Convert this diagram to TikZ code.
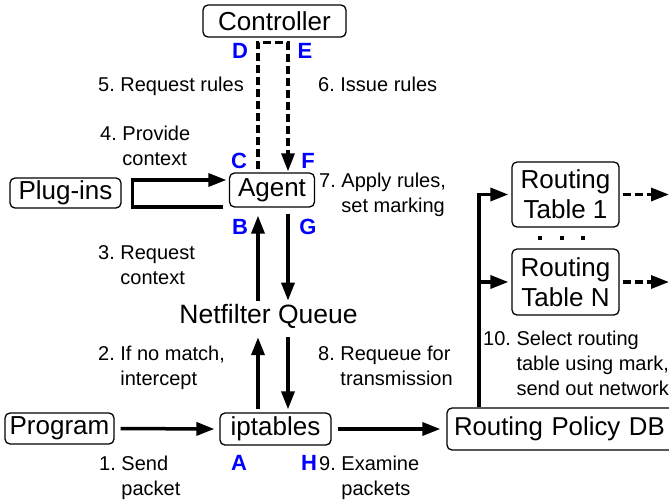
\documentclass[tikz,border=0pt]{standalone}
\usepackage{fontspec}
\setmainfont{Liberation Sans}
\usetikzlibrary{arrows.meta,calc}
\frenchspacing
\tikzset{
 box/.style={draw, line width=1.3pt, rounded corners=5pt, inner sep=0pt, font=\fontsize{26}{30}\selectfont, align=center},
 conn/.style={line width=3.5pt, -{Triangle[length=18pt,width=13pt]}},
 dsh/.style={line width=3.2pt, dash pattern=on 8pt off 4pt},
 lbl/.style={anchor=base west, inner sep=0pt, font=\fontsize{20}{25}\selectfont},
 pt/.style={anchor=center, inner sep=0pt, font=\fontsize{22}{22}\selectfont\bfseries, text=blue},
 dotsq/.style={fill=black},
}
\newcommand{\twoline}[3]{\begin{tabular}[t]{@{}l@{}l@{}}#1\ \mbox{}&#2\\&#3\end{tabular}}
\begin{document}
\begin{tikzpicture}[x=1pt,y=-1pt]
\useasboundingbox (0,0) rectangle (669,499);
% boxes
\node[box, minimum width=143pt, minimum height=32pt] (ctrl) at (274.5,21) {Controller};
\node[box, minimum width=111pt, minimum height=30pt] (plug) at (65.5,193) {Plug-ins};
\node[box, minimum width=85pt, minimum height=34pt] (agent) at (272,190) {Agent};
\node[font=\fontsize{26.5}{30}\selectfont, inner sep=0pt, anchor=base] (nfq) at (268.5,323) {Netfilter Queue};
\node[box, minimum width=109pt, minimum height=31pt] (prog) at (59.5,428.5) {Program};
\node[box, minimum width=111pt, minimum height=32pt] (ipt) at (275.5,429) {iptables};
\node[box, minimum width=256pt, minimum height=42pt, inner xsep=7pt, text width=242pt, align=left, font=\fontsize{25.8}{30}\selectfont] (rpdb) at (575,429) {Routing Policy DB};
\node[box, minimum width=107pt, minimum height=65pt] (rt1) at (565.5,194.5) {Routing\\Table 1};
\node[box, minimum width=107pt, minimum height=66pt] (rtn) at (565.5,282) {Routing\\Table N};
% dots
\fill[dotsq] (538,236) rectangle (542,240);
\fill[dotsq] (559.7,236) rectangle (563.7,240);
\fill[dotsq] (581.3,236) rectangle (585.3,240);
% dashed controller loop
\draw[dsh, -{Triangle[length=18pt,width=13pt]}] ([xshift=-14pt,yshift=3pt]agent.north) |- ([yshift=-5pt]ctrl.south) -| ([xshift=16pt,yshift=1pt]agent.north);
% plug-ins loop
\draw[conn] ([xshift=-5.5pt,yshift=-17pt]agent.west) -- ++(-91,0) |- ([xshift=-2.5pt,yshift=10pt]agent.west);
% agent <-> netfilter queue
\draw[conn] ([xshift=-10.5pt,yshift=3pt]nfq.north) -- ([xshift=-14pt,yshift=-8pt]agent.south);
\draw[conn] ([xshift=16pt,yshift=-6pt]agent.south) -- ([xshift=19.5pt,yshift=3pt]nfq.north);
% netfilter queue <-> iptables
\draw[conn] ([xshift=-17.5pt,yshift=3pt]ipt.north) -- ([xshift=-10.5pt,yshift=-9pt]nfq.south);
\draw[conn] ([xshift=19.5pt,yshift=-9pt]nfq.south) -- ([xshift=12.5pt,yshift=3pt]ipt.north);
% horizontal
\draw[conn] ([xshift=6pt]prog.east) -- ([xshift=-5pt]ipt.west);
\draw[conn] ([xshift=6pt]ipt.east) -- ([xshift=-6pt]rpdb.west);
% routing tables
\coordinate (vb) at ([xshift=-96pt]rpdb.north);
\draw[conn] (vb) |- ([xshift=-3pt]rt1.west);
\draw[conn] (vb |- rtn.west) -- ([xshift=-3pt]rtn.west);
\coordinate (out1) at (669,194.5);
\coordinate (outn) at (669,282);
\draw[dsh, -{Triangle[length=18pt,width=13pt]}] ([xshift=3pt]rt1.east) -- (out1);
\draw[dsh, -{Triangle[length=18pt,width=13pt]}] ([xshift=3pt]rtn.east) -- (outn);
% labels
\node[lbl] (l5) at (98,91) {5. Request rules};
\node[lbl] (l6) at (318,91) {6. Issue rules};
\node[lbl] (l4) at (100,140) {\twoline{4.}{Provide}{context}};
\node[lbl] (l3) at (98,259) {\twoline{3.}{Request}{context}};
\node[lbl] (l2) at (98,360) {\twoline{2.}{If no match,}{intercept}};
\node[lbl] (l7) at (319,187) {\twoline{7.}{Apply rules,}{set marking}};
\node[lbl] (l8) at (318,360) {\twoline{8.}{Requeue for}{transmission}};
\node[lbl] (l1) at (99,470) {\twoline{1.}{Send}{packet}};
\node[lbl] (l9) at (319,470) {\twoline{9.}{Examine}{packets}};
\node[lbl] (l10) at (483,345) {\begin{tabular}[t]{@{}l@{}l@{}}10.\ \mbox{}&Select routing\\&table using mark,\\&send out network\end{tabular}};
% letters
\node[pt] (D) at (240,51) {D};
\node[pt] (E) at (305,51) {E};
\node[pt] (C) at (239,161) {C};
\node[pt] (F) at (308,161) {F};
\node[pt] (B) at (240,227) {B};
\node[pt] (G) at (308,227) {G};
\node[pt] (A) at (239,463) {A};
\node[pt] (H) at (309,463) {H};
\end{tikzpicture}
\end{document}
